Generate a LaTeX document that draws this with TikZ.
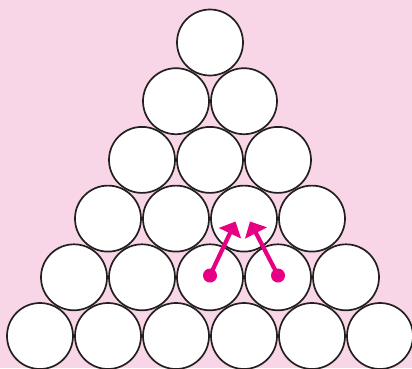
\documentclass[tikz,border=0pt]{standalone}
\usetikzlibrary{arrows.meta}
\definecolor{bgpink}{RGB}{249,214,231}
\definecolor{dotmag}{RGB}{232,0,132}
\definecolor{rim}{RGB}{35,31,32}
\tikzset{
  ball/.style={circle,draw=rim,fill=white,line width=1.7pt,minimum size=66pt,inner sep=0pt},
  pin/.style={circle,fill=dotmag,minimum size=14pt,inner sep=0pt},
  push/.style={draw=dotmag,line width=4.2pt,-{Triangle[length=13pt,width=24pt]}}
}
\begin{document}
\begin{tikzpicture}[x=1pt,y=-1pt,line cap=round,line join=round]
  \fill[bgpink] (0,0) rectangle (412,368);
  \useasboundingbox (0,0) rectangle (412,368);
  \foreach \i in {0,...,5}{
    \foreach \j in {0,...,\i}{
      \node[ball] (c-\i-\j) at ({210-34*\i+68*\j},{42.5+58.7*\i}) {};
    }
  }
  \node[pin] (p1) at (210,275.5) {};
  \node[pin] (p2) at (278,275.5) {};
  \coordinate (t1) at (235.5,221.5);
  \coordinate (t2) at (250,221.5);
  \draw[push] (p1.center) -- (t1);
  \draw[push] (p2.center) -- (t2);
\end{tikzpicture}
\end{document}
